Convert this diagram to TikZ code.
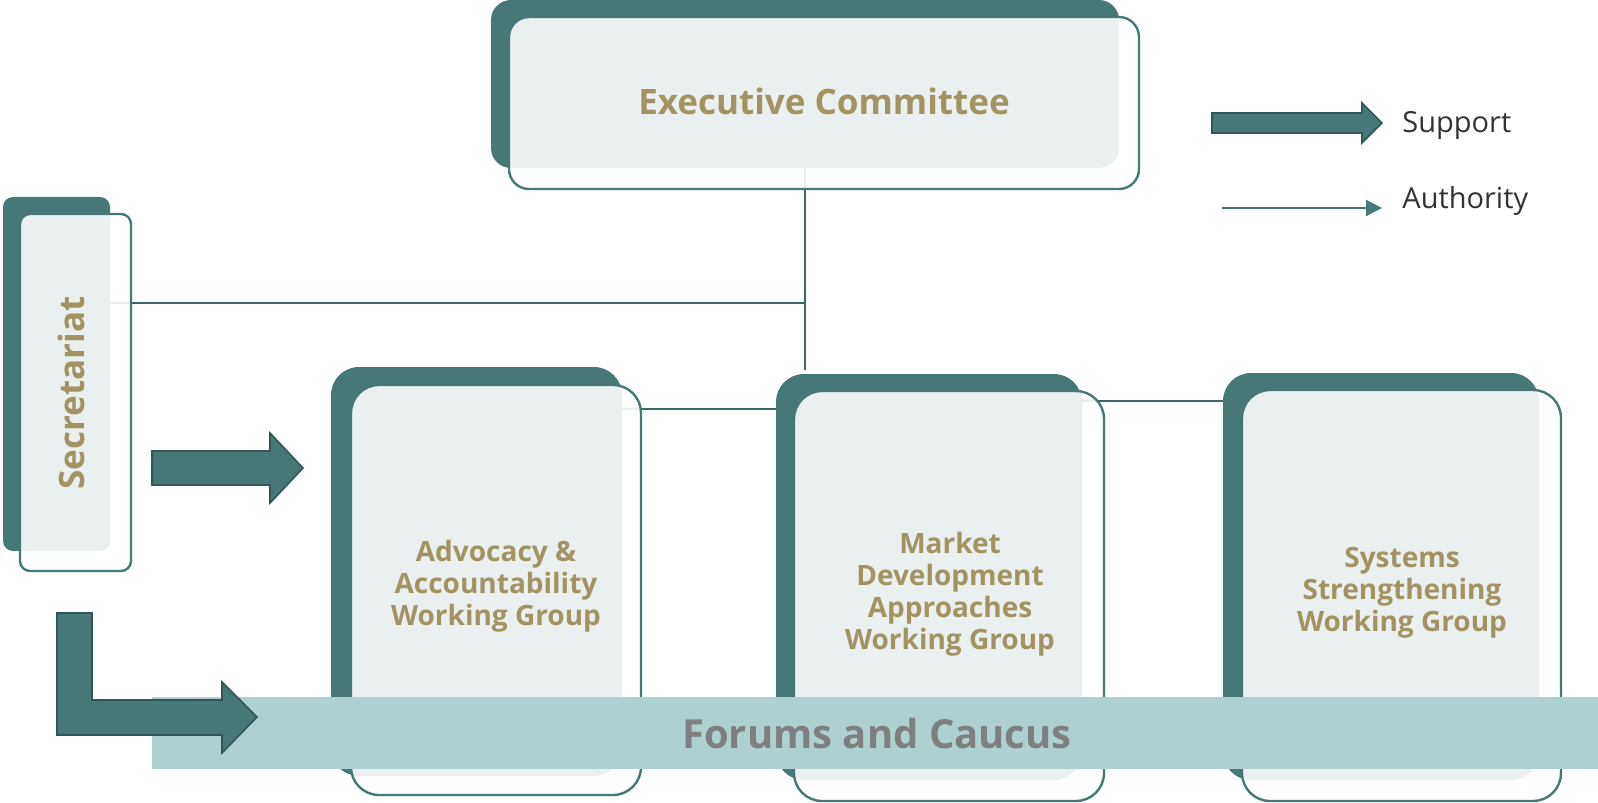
\documentclass[tikz,border=0pt]{standalone}
\usepackage{fontspec}
\setmainfont{Open Sans}
\usetikzlibrary{arrows.meta}
\definecolor{teal1}{HTML}{467878}
\definecolor{tealdk}{HTML}{2F5757}
\definecolor{gold}{HTML}{A39262}
\definecolor{barc}{HTML}{AFD0D1}
\definecolor{bartext}{HTML}{7F7F7F}
\definecolor{linec}{HTML}{3D6767}
\definecolor{legtext}{HTML}{333333}
\begin{document}
\begin{tikzpicture}[x=0.5pt,y=-0.5pt,
  darkbox/.style={draw=none, fill=teal1, inner sep=0pt, rounded corners=#1},
  frontbox/.style={draw=teal1, line width=1.2pt, fill=white, fill opacity=0.89, inner sep=0pt, rounded corners=#1},
  conn/.style={draw=linec, line width=1.2pt},
  blockarrow/.style={fill=teal1, draw=tealdk, line width=0.8pt, line join=miter},
  lbl/.style={text=gold, font=\bfseries\fontsize{14}{16}\selectfont, align=center},
  big/.style={text=gold, font=\bfseries\fontsize{17.5}{21}\selectfont},
  legtxt/.style={text=legtext, font=\fontsize{14.5}{18}\selectfont, anchor=base west, inner sep=0pt}
]
\useasboundingbox (0,0) rectangle (1598,802);

% dark back boxes
\node[darkbox=10pt, minimum width=314pt, minimum height=84pt] (execdark) at (805,84) {};
\node[darkbox=5pt, minimum width=53.5pt, minimum height=177pt] (secdark) at (56.5,374) {};
\node[darkbox=14pt, minimum width=145.5pt, minimum height=204.5pt] (adark) at (476.5,571.5) {};
\node[darkbox=14pt, minimum width=153pt, minimum height=203pt] (mdark) at (929,577) {};
\node[darkbox=14pt, minimum width=158pt, minimum height=203.5pt] (sdark) at (1381,576.5) {};

% authority connectors
\coordinate (jv) at (805,370);
\coordinate (jh) at (805,303);
\coordinate (c1) at (700,409);
\coordinate (c2) at (1150,401);
\draw[conn] (execdark.south) -- (jv);
\draw[conn] (secdark.east |- jh) -- (jh);
\draw[conn] (adark.east |- c1) -- (mdark.west |- c1);
\draw[conn] (mdark.east |- c2) -- (sdark.west |- c2);

% front boxes
\node[frontbox=10pt, minimum width=315pt, minimum height=86pt] (exec) at (824,103) {};
\node[frontbox=5pt, minimum width=55.5pt, minimum height=178.5pt] (sec) at (75.5,392.5) {};
\node[frontbox=14pt, minimum width=145pt, minimum height=205pt] (adv) at (496,590) {};
\node[frontbox=14pt, minimum width=155pt, minimum height=205pt] (mkt) at (949,596) {};
\node[frontbox=14pt, minimum width=159.5pt, minimum height=205.5pt] (sys) at (1401.5,595.5) {};

% labels
\node[big] (exectxt) at (824,101) {Executive Committee};
\node[big, rotate=90] (sectxt) at (71,393) {Secretariat};
\node[lbl] (advtxt) at (496,586) {Advocacy \&\\Accountability\\Working Group};
\node[lbl] (mkttxt) at (950,594) {Market\\Development\\Approaches\\Working Group};
\node[lbl] (systxt) at (1402,593) {Systems\\Strengthening\\Working Group};

% forums bar
\node[fill=barc, draw=none, inner sep=0pt, minimum width=723pt, minimum height=36pt] (bar) at (875,733) {};
\node[text=bartext, font=\bfseries\fontsize{20}{24}\selectfont] (bartxt) at (877,733) {Forums and Caucus};

% support arrows
\draw[blockarrow] (152,451) -- (270,451) -- (270,433) -- (303,468) -- (270,503) -- (270,485) -- (152,485) -- cycle;
\draw[blockarrow] (57,613) -- (92,613) -- (92,700) -- (222,700) -- (222,682) -- (257,717) -- (222,753) -- (222,735) -- (57,735) -- cycle;

% legend
\draw[blockarrow] (1212,113) -- (1362,113) -- (1362,103) -- (1382,123) -- (1362,143) -- (1362,133) -- (1212,133) -- cycle;
\node[legtxt] (suptxt) at (1402,133) {Support};
\coordinate (autha) at (1222,208);
\coordinate (authb) at (1382,208);
\draw[draw=teal1, line width=1pt, -{Triangle[length=8pt,width=8pt]}] (autha) -- (authb);
\node[legtxt] (authtxt) at (1402,208) {Authority};
\end{tikzpicture}
\end{document}
